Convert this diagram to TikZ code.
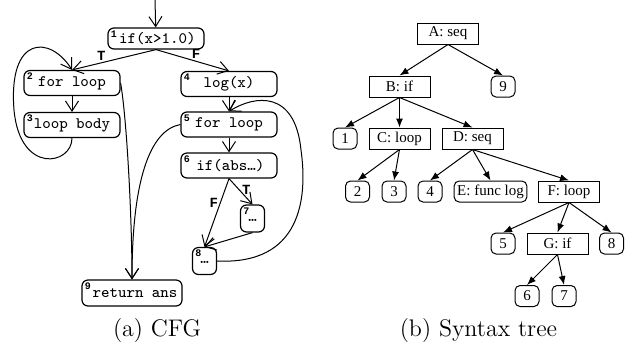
\documentclass[tikz,border=0pt]{standalone}
\usepackage{fontspec}
\newfontfamily\treefont{Liberation Serif}
\newfontfamily\condfont{Liberation Mono}
\usetikzlibrary{arrows.meta,positioning}

\tikzset{
  cfgbox/.style={draw, semithick, rounded corners=3pt, minimum width=48pt, minimum height=12.5pt, inner sep=1pt, font=\ttfamily\fontsize{8}{9}\selectfont},
  cfgsmall/.style={cfgbox, minimum width=12pt, minimum height=13.5pt},
  cfgno/.style={label={[anchor=north west, inner sep=1.5pt, font=\condfont\bfseries\fontsize{5}{6}\selectfont]north west:#1}},
  cfgarrow/.style={-{Straight Barb[length=5pt,width=6.5pt]}, line width=0.5pt},
  cfgcond/.style={font=\condfont\bfseries\fontsize{7}{8}\selectfont, inner sep=1pt},
  tbox/.style={draw, line width=0.5pt, minimum width=30.5pt, minimum height=10.5pt, inner sep=1.5pt, font=\treefont\fontsize{7.5}{8}\selectfont},
  tleaf/.style={tbox, rounded corners=2.5pt, minimum width=12pt},
  tarrow/.style={-{Latex[length=4.5pt,width=3.5pt]}, line width=0.5pt},
}

\begin{document}
\begin{tikzpicture}[x=0.5pt, y=-0.5pt]
  \useasboundingbox (0,0) rectangle (631,344);

  \coordinate (entry) at (155, 0);
  \node[cfgbox, cfgno=1, minimum height=10.5pt] at (156, 38.5) (n1) {\,if(x>1.0)};
  \node[cfgbox, cfgno=2] at (72, 83) (n2) {for loop};
  \node[cfgbox, cfgno=3] at (72, 125) (n3) {loop body};
  \node[cfgbox, cfgno=4] at (229, 84) (n4) {log(x)};
  \node[cfgbox, cfgno=5] at (229, 124.5) (n5) {for loop};
  \node[cfgbox, cfgno=6] at (229, 165.5) (n6) {\,if(abs…)};
  \node[cfgsmall, cfgno=7] at (252.5, 218.5) (n7) {\raisebox{-2.5pt}{…}};
  \node[cfgsmall, cfgno=8] at (204.5, 261) (n8) {\raisebox{-2.5pt}{…}};
  \node[cfgbox, cfgno=9, minimum width=50pt, minimum height=13pt] at (132, 293) (n9) {\hspace{3pt}return ans};
  \node[font=\large] at (157, 330) (capa) {(a) CFG};

  \draw[cfgarrow] (entry) -- (n1);
  \draw[cfgarrow] (n1.south) -- node[cfgcond, pos=0.65, above] {T} (n2.north);
  \draw[cfgarrow] (n1.south) -- node[cfgcond, pos=0.55, above] {F} (n4.north);
  \draw[cfgarrow] (n2) -- (n3);
  \draw[cfgarrow] (n3.south) .. controls (72, 165) and (20, 175) .. (14, 110)
    .. controls (8, 35) and (50, 35) .. (n2.north);
  \draw[cfgarrow] (n2.east) .. controls (127, 120) and (132, 220) .. (n9.north);
  \draw[cfgarrow] (n4) -- (n5);
  \draw[cfgarrow] (n5) -- (n6);
  \draw[cfgarrow] (n5.west) .. controls (150, 130) and (132, 180) .. (n9.north);
  \draw[cfgarrow] (n6.south) -- node[cfgcond, pos=0.45, right] {T} (n7.north);
  \draw[cfgarrow] (n6.south) -- node[cfgcond, pos=0.35, left] {F} (n8.north);
  \draw[cfgarrow] (n7.south) -- (n8.north);
  \draw[cfgarrow] (n8.east) .. controls (300, 265) and (308, 200) .. (301, 150)
    .. controls (295, 90) and (255, 95) .. (n5.north);

  \node[tbox] at (448, 33.5) (A) {A: seq};
  \node[tbox] at (399.5, 86.5) (B) {B: if};
  \node[tleaf] at (503, 86.5) (t9) {9};
  \node[tleaf] at (345, 138.5) (t1) {1};
  \node[tbox] at (399.5, 138.5) (C) {C: loop};
  \node[tbox] at (472.5, 138.5) (D) {D: seq};
  \node[tleaf] at (357.5, 191.5) (t2) {2};
  \node[tleaf] at (394, 191.5) (t3) {3};
  \node[tleaf] at (430, 191.5) (t4) {4};
  \node[tleaf] at (490.5, 191.5) (E) {E: func log};
  \node[tbox] at (569, 191.5) (F) {F: loop};
  \node[tleaf] at (503, 243.5) (t5) {5};
  \node[tbox] at (557.5, 243.5) (G) {G: if};
  \node[tleaf] at (611.5, 243.5) (t8) {8};
  \node[tleaf] at (527, 296) (t6) {6};
  \node[tleaf] at (564, 296) (t7) {7};
  \node[font=\large] at (478.5, 330) (capb) {(b) Syntax tree};

  \draw[tarrow] (A.south) -- (B.north);
  \draw[tarrow] (A.south) -- (t9.north);
  \draw[tarrow] (B.south) -- (t1.north);
  \draw[tarrow] (B.south) -- (C.north);
  \draw[tarrow] (B.south) -- (D.north);
  \draw[tarrow] (C.south) -- (t2.north);
  \draw[tarrow] (C.south) -- (t3.north);
  \draw[tarrow] (D.south) -- (t4.north);
  \draw[tarrow] (D.south) -- (E.north);
  \draw[tarrow] (D.south) -- (F.north);
  \draw[tarrow] (F.south) -- (t5.north);
  \draw[tarrow] (F.south) -- (G.north);
  \draw[tarrow] (F.south) -- (t8.north);
  \draw[tarrow] (G.south) -- (t6.north);
  \draw[tarrow] (G.south) -- (t7.north);
\end{tikzpicture}
\end{document}
